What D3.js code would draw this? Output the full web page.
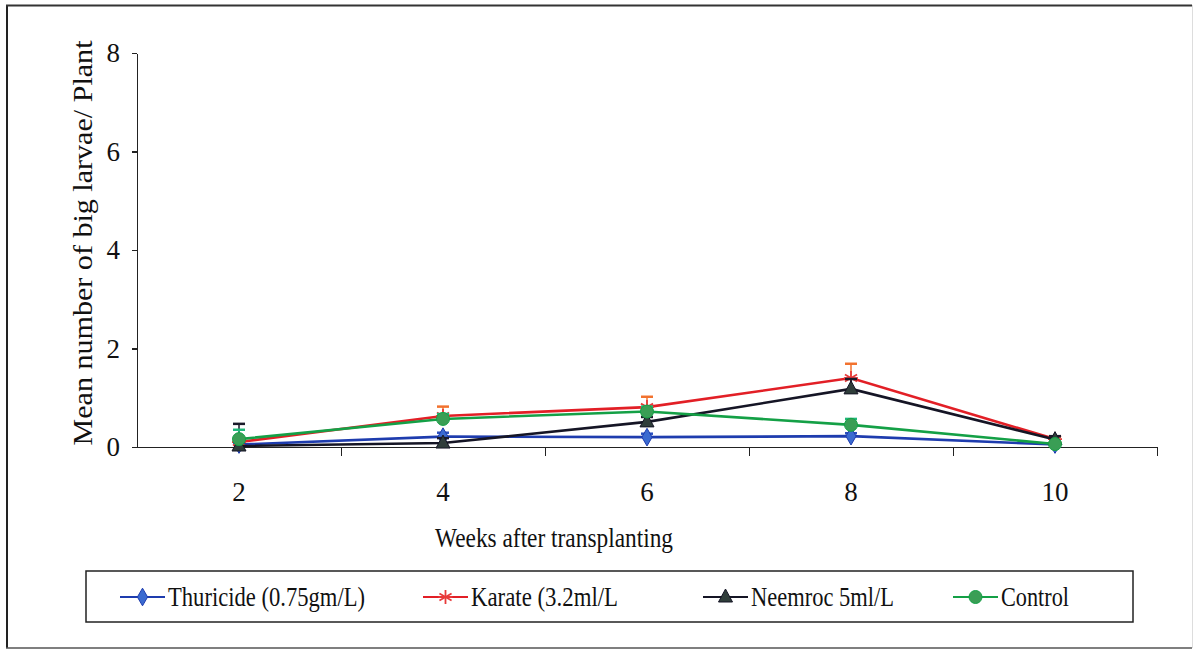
<!DOCTYPE html>
<meta charset="utf-8">
<style>
body { margin: 0; background: #fff; }
svg text { font-family: "Liberation Serif", "DejaVu Serif", "Noto Serif", serif; fill: #111; }
.axis path, .axis line { stroke: #222; stroke-width: 1.3; shape-rendering: crispEdges; }
</style>
<body>
<div id="chart"></div>
<script src="https://d3js.org/d3.v7.min.js"></script>
<script>
var weeks = ["2", "4", "6", "8", "10"];
var yTicks = [0, 2, 4, 6, 8];

var seriesNames = ["Thuricide (0.75gm/L)", "Karate (3.2ml/L", "Neemroc 5ml/L", "Control"];
var thuricide = [0.05, 0.21, 0.20, 0.22, 0.05];
var karate    = [0.10, 0.63, 0.81, 1.40, 0.16];
var neemroc   = [0.02, 0.08, 0.51, 1.18, 0.15];
var control   = [0.16, 0.57, 0.72, 0.45, 0.06];

var thuricideErr = [0.03, 0.08, 0.07, 0.06, 0.02];
var karateErr    = [0.05, 0.19, 0.21, 0.29, 0.05];
var neemrocErr   = [0.45, 0.10, 0.10, 0.20, 0.07];
var controlErr   = [0.19, 0.10, 0.10, 0.12, 0.04];

var W = 1194, H = 651;
var plotLeft = 137, plotRight = 1157, plotTop = 53, plotBottom = 447;

var svg = d3.select("#chart").append("svg").attr("width", W).attr("height", H);

// outer frame
svg.append("line").attr("x1", 7).attr("y1", 5).attr("x2", 7).attr("y2", 648).attr("stroke", "#222").attr("stroke-width", 2);
svg.append("line").attr("x1", 6).attr("y1", 5.5).attr("x2", 1192).attr("y2", 5.5).attr("stroke", "#333").attr("stroke-width", 2);
svg.append("line").attr("x1", 6).attr("y1", 648).attr("x2", 1192).attr("y2", 648).attr("stroke", "#555").attr("stroke-width", 1.5);
svg.append("line").attr("x1", 1192.5).attr("y1", 5).attr("x2", 1192.5).attr("y2", 648).attr("stroke", "#ddd").attr("stroke-width", 1);

var x = d3.scaleBand().domain(weeks).range([plotLeft, plotRight]).padding(0);
var xb = d3.scaleLinear().domain([0, weeks.length]).range([plotLeft, plotRight]);
var y = d3.scaleLinear().domain([0, 8]).range([plotBottom, plotTop]);

// y axis
var yAxis = svg.append("g").attr("class", "axis").attr("transform", "translate(" + plotLeft + ",0)")
  .call(d3.axisLeft(y).tickValues(yTicks).tickSize(5).tickPadding(12).tickSizeOuter(0));
yAxis.selectAll("text").style("font-size", "27px");

// x axis boundary ticks
svg.append("g").attr("class", "axis").attr("transform", "translate(0," + plotBottom + ")")
  .call(d3.axisBottom(xb).tickValues(d3.range(1, weeks.length + 1)).tickFormat("").tickSize(9).tickSizeOuter(0));
var xAxis = svg.append("g").attr("class", "axis").attr("transform", "translate(0," + plotBottom + ")")
  .call(d3.axisBottom(x).tickSize(0).tickPadding(35));
xAxis.select(".domain").remove();
xAxis.selectAll("text").style("font-size", "27px");

// axis titles
svg.append("text")
  .attr("transform", "translate(92," + 243 + ") rotate(-90)")
  .attr("text-anchor", "middle")
  .style("font-size", "27px")
  .attr("textLength", 405).attr("lengthAdjust", "spacingAndGlyphs")
  .text("Mean number of big larvae/ Plant");

svg.append("text")
  .attr("x", 435).attr("y", 547)
  .style("font-size", "27px")
  .attr("textLength", 238).attr("lengthAdjust", "spacingAndGlyphs")
  .text("Weeks after transplanting");

var series = [
  {name: seriesNames[0], values: thuricide, err: thuricideErr, line: "#1e3cae", fill: "#3a6ad0", cap: "#2a50c0", marker: "diamond"},
  {name: seriesNames[1], values: karate, err: karateErr, line: "#e21f26", fill: "#e83a3a", cap: "#f2722e", marker: "asterisk"},
  {name: seriesNames[2], values: neemroc, err: neemrocErr, line: "#151525", fill: "#2f3d3a", cap: "#1a1a2a", marker: "triangle"},
  {name: seriesNames[3], values: control, err: controlErr, line: "#14a046", fill: "#3a9e55", cap: "#1fb87a", marker: "circle"}
];

function drawMarker(g, type, cx, cy, s) {
  if (type === "diamond") {
    g.append("path").attr("d", d3.symbol(d3.symbolDiamond, 90)()).attr("transform", "translate(" + cx + "," + cy + ")")
      .attr("fill", s.fill).attr("stroke", s.line).attr("stroke-width", 1);
  } else if (type === "asterisk") {
    var r = 7;
    var a = g.append("g").attr("transform", "translate(" + cx + "," + cy + ")").attr("stroke", s.fill).attr("stroke-width", 1.8);
    [0, 60, 120].forEach(function(deg) {
      var t = deg * Math.PI / 180;
      a.append("line").attr("x1", -r * Math.sin(t)).attr("y1", -r * Math.cos(t)).attr("x2", r * Math.sin(t)).attr("y2", r * Math.cos(t));
    });
    a.append("line").attr("x1", -r).attr("y1", 0).attr("x2", r).attr("y2", 0);
  } else if (type === "triangle") {
    g.append("path").attr("d", "M0,-8L7,5L-7,5Z").attr("transform", "translate(" + cx + "," + cy + ")")
      .attr("fill", s.fill).attr("stroke", s.line).attr("stroke-width", 1);
  } else {
    g.append("circle").attr("cx", cx).attr("cy", cy).attr("r", 6.5).attr("fill", s.fill).attr("stroke", s.line).attr("stroke-width", 1);
  }
}

var line = d3.line()
  .x(function(d, i) { return x(weeks[i]) + x.bandwidth() / 2; })
  .y(function(d) { return y(d); });

series.forEach(function(s) {
  var g = svg.append("g");
  // error bars
  s.values.forEach(function(v, i) {
    var cx = x(weeks[i]) + x.bandwidth() / 2;
    g.append("line").attr("x1", cx).attr("x2", cx).attr("y1", y(v)).attr("y2", y(v + s.err[i]))
      .attr("stroke", s.cap).attr("stroke-width", 1.5);
    g.append("line").attr("x1", cx - 6).attr("x2", cx + 6).attr("y1", y(v + s.err[i])).attr("y2", y(v + s.err[i]))
      .attr("stroke", s.cap).attr("stroke-width", 2.5);
  });
  g.append("path").datum(s.values).attr("d", line).attr("fill", "none").attr("stroke", s.line).attr("stroke-width", 2.6);
  s.values.forEach(function(v, i) {
    drawMarker(g, s.marker, x(weeks[i]) + x.bandwidth() / 2, y(v), s);
  });
});

// legend
svg.append("rect").attr("x", 86).attr("y", 571).attr("width", 1047).attr("height", 51)
  .attr("fill", "none").attr("stroke", "#222").attr("stroke-width", 1.5);

var legendX = [120, 423, 703, 953];
var legendW = [197, 147, 143, 68];
series.forEach(function(s, i) {
  var g = svg.append("g");
  var lx = legendX[i], ly = 597;
  g.append("line").attr("x1", lx).attr("x2", lx + 45).attr("y1", ly).attr("y2", ly).attr("stroke", s.line).attr("stroke-width", 2.2);
  drawMarker(g, s.marker, lx + 22.5, ly, s);
  g.append("text").attr("x", lx + 48).attr("y", ly + 9)
    .style("font-size", "28px")
    .attr("textLength", legendW[i]).attr("lengthAdjust", "spacingAndGlyphs")
    .text(s.name);
});
</script>
</body>
